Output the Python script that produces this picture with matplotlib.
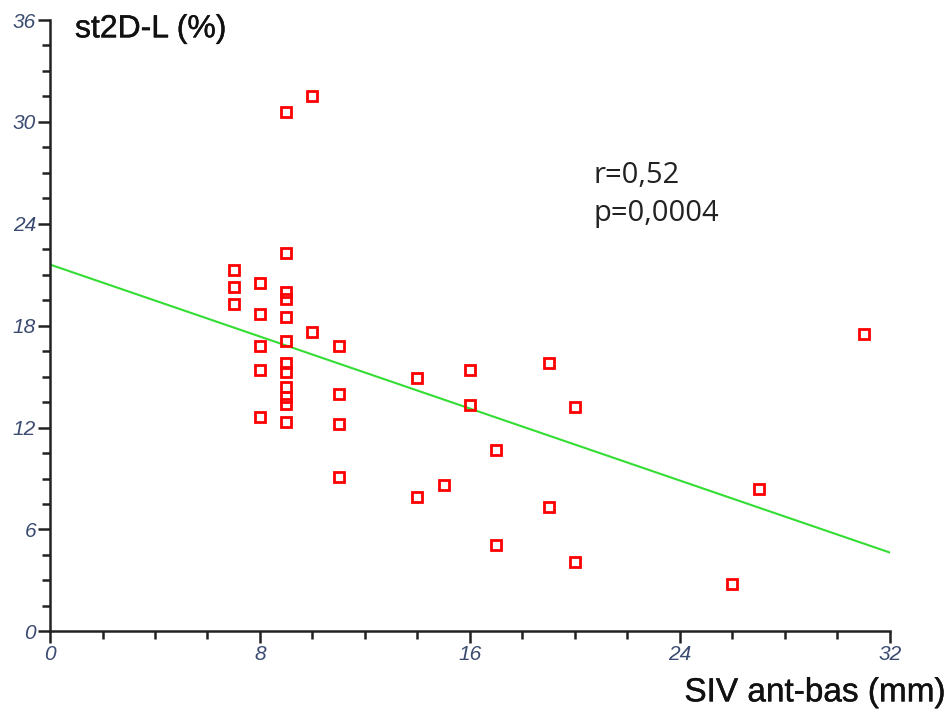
import numpy as np
import matplotlib.pyplot as plt
import matplotlib.patheffects as pe
from matplotlib.ticker import MultipleLocator

# values
siv = [10, 9, 9, 7, 7, 8, 9, 9, 7, 8, 9, 10, 9, 8, 11, 9, 9, 8, 9, 9, 9, 8, 9,
       11, 11, 11, 14, 14, 15, 16, 16, 17, 17, 19, 19, 20, 20, 26, 27, 31]
st2d = [31.5, 30.6, 22.3, 21.3, 20.3, 20.5, 20.0, 19.6, 19.3, 18.7, 18.5, 17.6, 17.1,
        16.8, 16.8, 15.8, 15.3, 15.4, 14.4, 13.8, 13.4, 12.6, 12.3,
        14.0, 12.2, 9.1, 14.9, 7.9, 8.6, 15.4, 13.3, 10.7, 5.1, 15.8, 7.3,
        13.2, 4.1, 2.8, 8.4, 17.5]
fit_intercept = 21.6
fit_slope = -0.53
r_text = "r=0,52"
p_text = "p=0,0004"

fig = plt.figure(figsize=(9.49, 7.15), dpi=100)
ax = fig.add_axes([0.0527, 0.117, 0.885, 0.855])

xl = np.linspace(0, 32, 50)
ax.plot(xl, fit_intercept + fit_slope * xl, color="#33dd33", lw=1.5, zorder=2)
ax.plot(siv, st2d, ls="none", marker="s", ms=6.5, mfc="none", mec="red", mew=2, zorder=3)

ax.set_xlim(0, 32)
ax.set_ylim(0, 36)
ax.xaxis.set_major_locator(MultipleLocator(8))
ax.xaxis.set_minor_locator(MultipleLocator(2))
ax.yaxis.set_major_locator(MultipleLocator(6))
ax.yaxis.set_minor_locator(MultipleLocator(1.5))

for s in ["top", "right"]:
    ax.spines[s].set_visible(False)
for s in ["left", "bottom"]:
    ax.spines[s].set_linewidth(1.8)
    ax.spines[s].set_color("#222222")

ax.tick_params(which="major", length=8.5, width=1.8, color="#222222",
               labelsize=15, labelcolor="#3a4a70", pad=1.5)
ax.tick_params(which="minor", length=5.5, width=1.8, color="#222222")
for lab in ax.get_xticklabels() + ax.get_yticklabels():
    lab.set_fontstyle("italic")
    lab.set_family("Liberation Sans")

thick = [pe.withStroke(linewidth=0.3, foreground="#111111")]
fig.text(0.079, 0.959, "st2D-L (%)", fontsize=23, family="Liberation Sans", va="center",
         color="#111111", path_effects=thick)
fig.text(0.997, 0.031, "SIV ant-bas (mm)", fontsize=24, family="Liberation Sans",
         ha="right", va="center", color="#111111", path_effects=thick)

ax.text(0.647, 0.745, r_text, transform=ax.transAxes, fontsize=21, family="Open Sans",
        color="#222222", va="center")
ax.text(0.647, 0.683, p_text, transform=ax.transAxes, fontsize=21, family="Open Sans",
        color="#222222", va="center")

fig.savefig("out.png", dpi=100)
